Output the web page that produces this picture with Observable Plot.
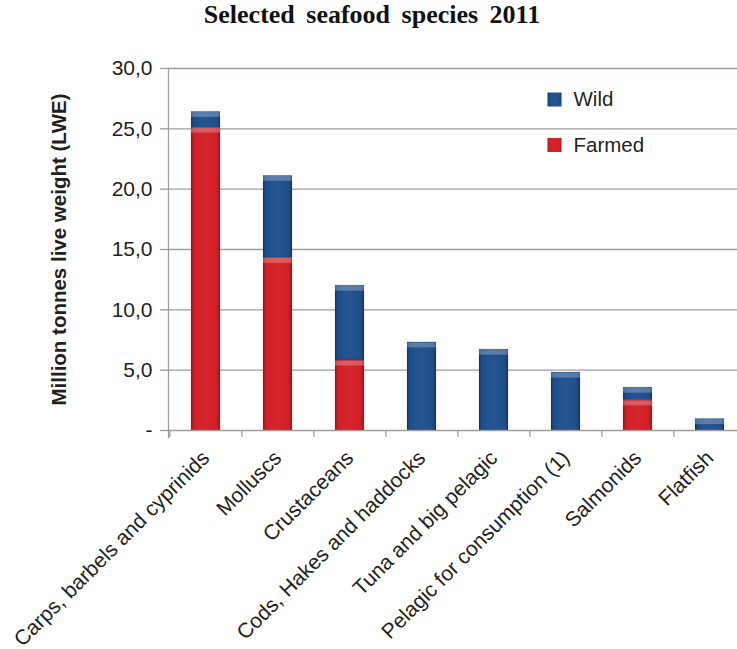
<!DOCTYPE html>
<html>
<head>
<meta charset="utf-8">
<script src="https://cdn.jsdelivr.net/npm/d3@7"></script>
<script src="https://cdn.jsdelivr.net/npm/@observablehq/plot@0.6"></script>
<style>
  body { margin: 0; background: #fff; }
  #title {
    width: 737px; height: 40px; line-height: 55px; box-sizing: border-box;
    padding-left: 7px; text-align: center; overflow: hidden;
    font: bold 26px "Liberation Serif", "Times New Roman", serif;
    word-spacing: 5px; color: #111;
  }
  #chart svg { display: block; }
</style>
</head>
<body>
<div id="title">Selected seafood species 2011</div>
<div id="chart"></div>
<script>
// Seafood supply 2011, million tonnes live weight equivalent
const categories = [
  "Carps, barbels and cyprinids",
  "Molluscs",
  "Crustaceans",
  "Cods, Hakes and haddocks",
  "Tuna and big pelagic",
  "Pelagic for consumption (1)",
  "Salmonids",
  "Flatfish"
];
const farmed = [25.1, 14.3, 5.8, 0, 0, 0, 2.5, 0];
const wild   = [1.3, 6.8, 6.2, 7.3, 6.7, 4.8, 1.05, 0.95];
const types = ["Farmed", "Wild"];
const legendOrder = ["Wild", "Farmed"];
const yTicks = [0, 5, 10, 15, 20, 25, 30];
const yLabel = "Million tonnes live weight (LWE)";

// long format, farmed first so it sits at the bottom of each stack
const rows = [];
categories.forEach((c, i) => {
  if (farmed[i] > 0) rows.push({category: c, type: "Farmed", value: farmed[i]});
  if (wild[i] > 0) rows.push({category: c, type: "Wild", value: wild[i]});
});

const W = 737, H = 609;
const mLeft = 168, mRight = -9, mTop = 28, mBottom = 219;
const step = (W - mRight - mLeft) / categories.length;
const gray = "#a29c9a";
const ink = "#231f20";
const font = "'Liberation Sans', Arial, Helvetica, sans-serif";
const fillFor = {Farmed: "url(#gFarmed)", Wild: "url(#gWild)"};

const fmt = d => d === 0 ? "-" : d.toFixed(1).replace(".", ",");

const legendMarks = legendOrder.flatMap((t, k) => [
  Plot.dot([t], {frameAnchor: "top-left", dx: 386, dy: 31 + 45.5 * k, symbol: "square", r: 7.9, fill: fillFor[t]}),
  Plot.text([t], {frameAnchor: "top-left", dx: 405, dy: 31 + 45.5 * k, text: d => d,
    textAnchor: "start", lineAnchor: "middle", fontSize: 20.5, fill: ink})
]);

const chart = Plot.plot({
  width: W, height: H,
  marginLeft: mLeft, marginRight: mRight, marginTop: mTop, marginBottom: mBottom,
  style: {fontFamily: font, background: "#fff", color: ink},
  x: {domain: categories, paddingInner: 0.6, paddingOuter: 0.3, align: 0.5, label: null},
  y: {domain: [0, 30], label: null},
  color: {domain: types, range: types.map(t => fillFor[t])},
  marks: [
    Plot.gridY({ticks: yTicks.slice(1), stroke: gray, strokeOpacity: 1, strokeWidth: 1.3}),
    Plot.barY(rows, Plot.stackY({x: "category", y: "value", z: "type", fill: "type", order: types,
      stroke: "#000", strokeOpacity: 0.12, strokeWidth: 1})),
    // bevel highlight along the top of each segment
    Plot.tickY(rows, Plot.stackY2({x: "category", y: "value", z: "type", order: types,
      stroke: "#fff", strokeOpacity: 0.25, strokeWidth: 5, dy: 2.5})),
    Plot.ruleY([0], {stroke: gray, strokeWidth: 1.3}),
    Plot.frame({anchor: "left", stroke: gray, strokeWidth: 1.3, insetBottom: -7}),
    Plot.axisY({ticks: yTicks, tickFormat: fmt, tickSize: 8, tickPadding: 8, fontSize: 21,
      stroke: gray, strokeWidth: 1.3, fill: ink, label: null}),
    // boundary ticks between categories
    Plot.axisX({tickSize: 7, tickFormat: () => "", dx: -step / 2, stroke: gray, strokeWidth: 1.3, label: null}),
    Plot.axisX({tickSize: 0, tickRotate: -45, tickPadding: 24, dx: 0, fontSize: 21, fill: ink, label: null}),
    Plot.text([yLabel], {frameAnchor: "left", textAnchor: "middle", lineAnchor: "middle", dx: -109, rotate: -90,
      fontSize: 20.5, fontWeight: "bold", fill: ink}),
    ...legendMarks
  ]
});

// gradients giving the bars their rounded look
const defs = d3.select(chart).insert("defs", ":first-child");
function grad(id, edge, mid, center) {
  const g = defs.append("linearGradient").attr("id", id).attr("x1", 0).attr("x2", 1).attr("y1", 0).attr("y2", 0);
  [[0, edge], [0.12, mid], [0.5, center], [0.88, mid], [1, edge]].forEach(([o, c]) =>
    g.append("stop").attr("offset", o).attr("stop-color", c));
}
grad("gFarmed", "#a5151b", "#cf1f27", "#d6252c");
grad("gWild", "#163a69", "#1f4e8a", "#245592");

document.getElementById("chart").appendChild(chart);
</script>
</body>
</html>
